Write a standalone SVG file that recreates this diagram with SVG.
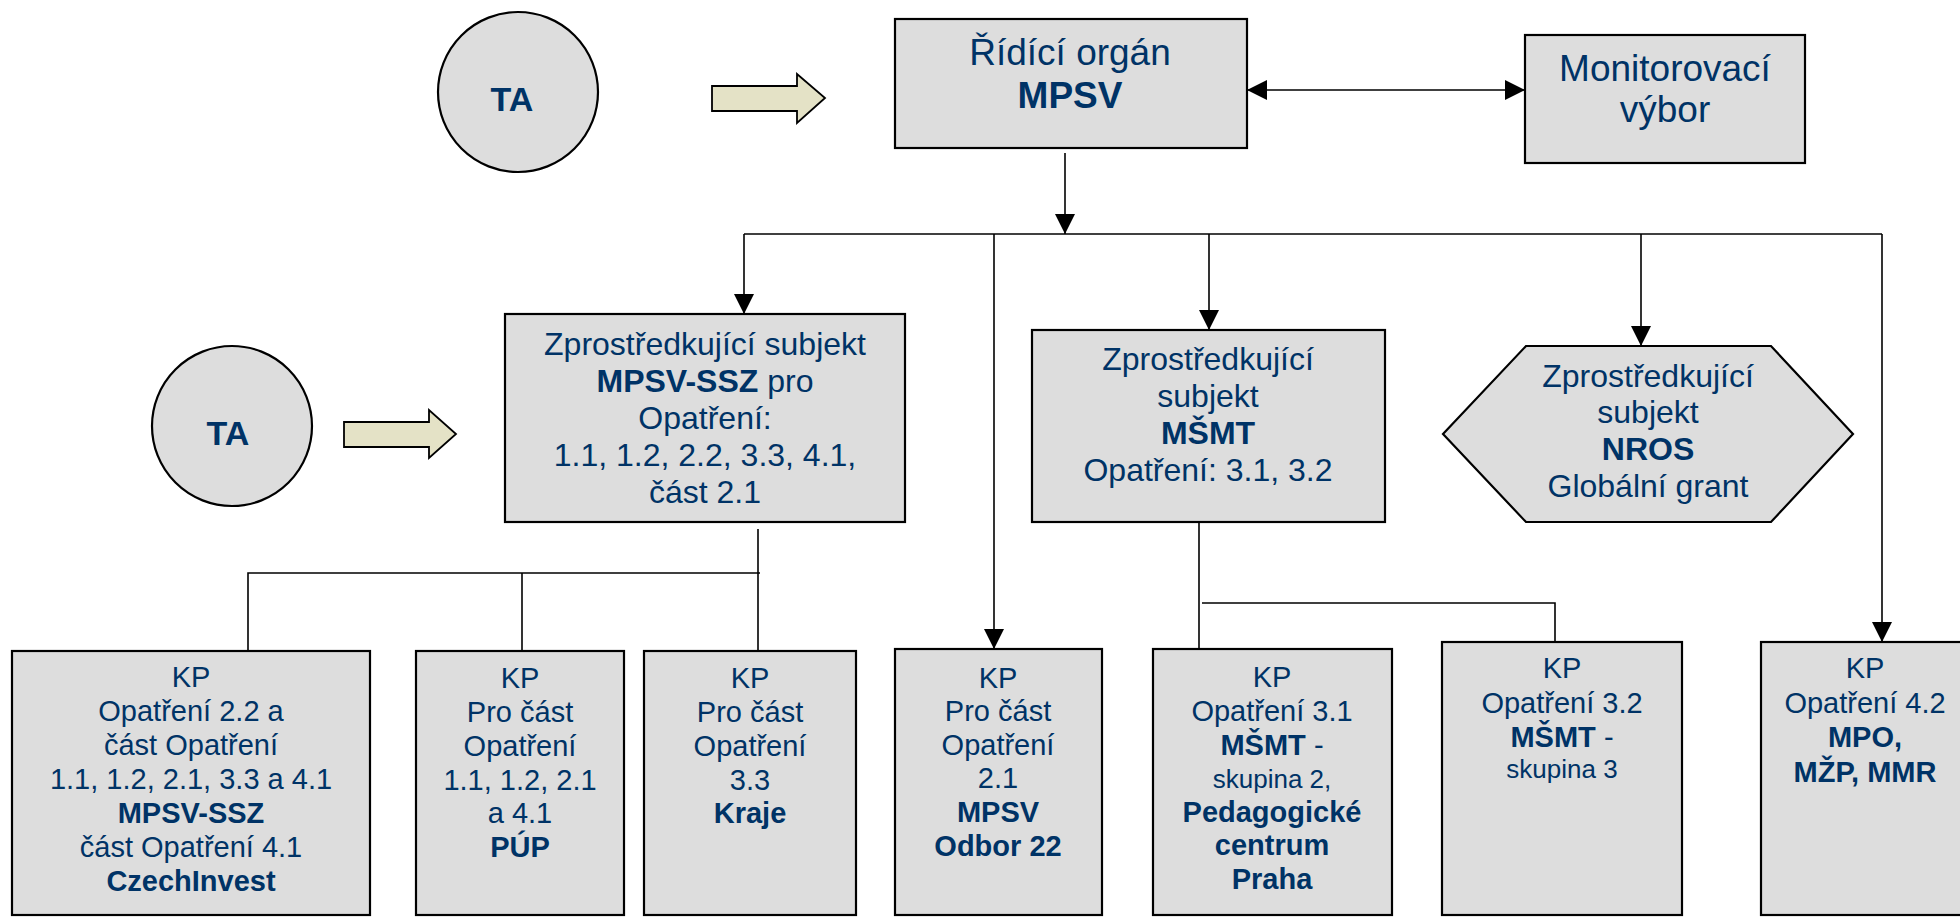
<svg xmlns="http://www.w3.org/2000/svg" width="1960" height="917" viewBox="0 0 1960 917">
<defs>
<style>
.box{fill:#dddddd;stroke:#000;stroke-width:2.2}
.barrow{fill:#e4e2c6;stroke:#000;stroke-width:1.8}
.ln{fill:none;stroke:#000;stroke-width:1.6}
text{font-family:"Liberation Sans",Arial,sans-serif;fill:#003366;text-anchor:middle}
.t37{font-size:37px}
.t32{font-size:32px}
.t29{font-size:29px}
.t26{font-size:26px}
.b{font-weight:bold}
</style>
<marker id="ah" viewBox="0 0 20 20" refX="20" refY="10" markerWidth="20" markerHeight="20" markerUnits="userSpaceOnUse" orient="auto-start-reverse">
<path d="M0,0 L20,10 L0,20 Z" fill="#000"/>
</marker>
</defs>

<g id="ta1">
<circle cx="518" cy="92" r="80" class="box" stroke-width="2"/>
<text x="512" y="111" class="b" font-size="34">TA</text>
</g>
<g id="arrow1">
<polygon class="barrow" points="712,86 797,86 797,74 825,98 797,123 797,111 712,111"/>
</g>

<g id="ro">
<rect x="895" y="19" width="352" height="129" class="box"/>
<text x="1070" y="65" class="t37">Řídící orgán</text>
<text x="1070" y="108" class="t37 b">MPSV</text>
</g>

<g id="mv">
<rect x="1525" y="35" width="280" height="128" class="box"/>
<text x="1665" y="81" class="t37">Monitorovací</text>
<text x="1665" y="122" class="t37">výbor</text>
</g>

<g id="ta2">
<circle cx="232" cy="426" r="80" class="box" stroke-width="2"/>
<text x="228" y="445" class="b" font-size="34">TA</text>
</g>
<g id="arrow2">
<polygon class="barrow" points="344,422 429,422 429,410 456,434 429,458 429,447 344,447"/>
</g>

<g id="zs-mpsv">
<rect x="505" y="314" width="400" height="208" class="box"/>
<text x="705" y="355" class="t32">Zprostředkující subjekt</text>
<text x="705" y="392" class="t32"><tspan class="b">MPSV-SSZ</tspan> pro</text>
<text x="705" y="429" class="t32">Opatření:</text>
<text x="705" y="466" class="t32">1.1, 1.2, 2.2, 3.3, 4.1,</text>
<text x="705" y="503" class="t32">část 2.1</text>
</g>

<g id="zs-msmt">
<rect x="1032" y="330" width="353" height="192" class="box"/>
<text x="1208" y="370" class="t32">Zprostředkující</text>
<text x="1208" y="407" class="t32">subjekt</text>
<text x="1208" y="444" class="t32 b">MŠMT</text>
<text x="1208" y="481" class="t32">Opatření: 3.1, 3.2</text>
</g>

<g id="zs-nros">
<polygon class="box" points="1526,346 1771,346 1853,434 1771,522 1526,522 1443,434"/>
<text x="1648" y="387" class="t32">Zprostředkující</text>
<text x="1648" y="423" class="t32">subjekt</text>
<text x="1648" y="460" class="t32 b">NROS</text>
<text x="1648" y="497" class="t32">Globální grant</text>
</g>

<g id="kp1">
<rect x="12" y="651" width="358" height="264" class="box"/>
<text x="191" y="687" class="t29">KP</text>
<text x="191" y="721" class="t29">Opatření 2.2 a</text>
<text x="191" y="755" class="t29">část Opatření</text>
<text x="191" y="789" class="t29">1.1, 1.2, 2.1, 3.3 a 4.1</text>
<text x="191" y="823" class="t29 b">MPSV-SSZ</text>
<text x="191" y="857" class="t29">část Opatření 4.1</text>
<text x="191" y="891" class="t29 b">CzechInvest</text>
</g>

<g id="kp2">
<rect x="416" y="651" width="208" height="264" class="box"/>
<text x="520" y="688" class="t29">KP</text>
<text x="520" y="722" class="t29">Pro část</text>
<text x="520" y="756" class="t29">Opatření</text>
<text x="520" y="790" class="t29">1.1, 1.2, 2.1</text>
<text x="520" y="823" class="t29">a 4.1</text>
<text x="520" y="857" class="t29 b">PÚP</text>
</g>

<g id="kp3">
<rect x="644" y="651" width="212" height="264" class="box"/>
<text x="750" y="688" class="t29">KP</text>
<text x="750" y="722" class="t29">Pro část</text>
<text x="750" y="756" class="t29">Opatření</text>
<text x="750" y="790" class="t29">3.3</text>
<text x="750" y="823" class="t29 b">Kraje</text>
</g>

<g id="kp4">
<rect x="895" y="649" width="207" height="266" class="box"/>
<text x="998" y="688" class="t29">KP</text>
<text x="998" y="721" class="t29">Pro část</text>
<text x="998" y="755" class="t29">Opatření</text>
<text x="998" y="788" class="t29">2.1</text>
<text x="998" y="822" class="t29 b">MPSV</text>
<text x="998" y="856" class="t29 b">Odbor 22</text>
</g>

<g id="kp5">
<rect x="1153" y="649" width="239" height="266" class="box"/>
<text x="1272" y="687" class="t29">KP</text>
<text x="1272" y="721" class="t29">Opatření 3.1</text>
<text x="1272" y="755" class="t29"><tspan class="b">MŠMT</tspan> -</text>
<text x="1272" y="788" class="t26">skupina 2,</text>
<text x="1272" y="822" class="t29 b">Pedagogické</text>
<text x="1272" y="855" class="t29 b">centrum</text>
<text x="1272" y="889" class="t29 b">Praha</text>
</g>

<g id="kp6">
<rect x="1442" y="642" width="240" height="273" class="box"/>
<text x="1562" y="678" class="t29">KP</text>
<text x="1562" y="713" class="t29">Opatření 3.2</text>
<text x="1562" y="747" class="t29"><tspan class="b">MŠMT</tspan> -</text>
<text x="1562" y="778" class="t26">skupina 3</text>
</g>

<g id="kp7">
<rect x="1761" y="642" width="208" height="273" class="box"/>
<text x="1865" y="678" class="t29">KP</text>
<text x="1865" y="713" class="t29">Opatření 4.2</text>
<text x="1865" y="747" class="t29 b">MPO,</text>
<text x="1865" y="782" class="t29 b">MŽP, MMR</text>
</g>

<g id="connectors">
<line class="ln" x1="1247" y1="90" x2="1525" y2="90" marker-start="url(#ah)" marker-end="url(#ah)"/>
<line class="ln" x1="1065" y1="153" x2="1065" y2="234" marker-end="url(#ah)"/>
<line class="ln" x1="744" y1="234" x2="1882" y2="234"/>
<line class="ln" x1="744" y1="234" x2="744" y2="314" marker-end="url(#ah)"/>
<line class="ln" x1="994" y1="234" x2="994" y2="649" marker-end="url(#ah)"/>
<line class="ln" x1="1209" y1="234" x2="1209" y2="330" marker-end="url(#ah)"/>
<line class="ln" x1="1641" y1="234" x2="1641" y2="346" marker-end="url(#ah)"/>
<line class="ln" x1="1882" y1="234" x2="1882" y2="642" marker-end="url(#ah)"/>
<polyline class="ln" points="758,529 758,651"/>
<polyline class="ln" points="248,651 248,573 760,573"/>
<line class="ln" x1="522" y1="573" x2="522" y2="651"/>
<line class="ln" x1="1199" y1="522" x2="1199" y2="649"/>
<polyline class="ln" points="1202,603 1555,603 1555,642"/>
</g>
</svg>
